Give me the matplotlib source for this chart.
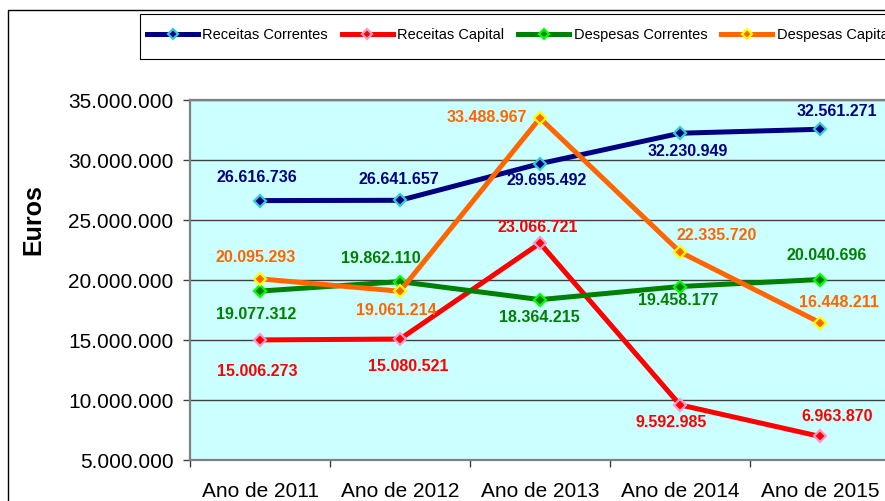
import matplotlib
matplotlib.use("Agg")
import matplotlib.pyplot as plt
from matplotlib.patches import Rectangle
from matplotlib.ticker import FuncFormatter, FixedLocator

plt.rcParams['font.family'] = ['Liberation Sans', 'DejaVu Sans']

categories = ["Ano de 2011", "Ano de 2012", "Ano de 2013", "Ano de 2014", "Ano de 2015"]
receitas_correntes = [26616736, 26641657, 29695492, 32230949, 32561271]
receitas_capital = [15006273, 15080521, 23066721, 9592985, 6963870]
despesas_correntes = [19077312, 19862110, 18364215, 19458177, 20040696]
despesas_capital = [20095293, 19061214, 33488967, 22335720, 16448211]
series_names = ["Receitas Correntes", "Receitas Capital", "Despesas Correntes", "Despesas Capital"]
y_label = "Euros"

series = [receitas_correntes, receitas_capital, despesas_correntes, despesas_capital]
line_colors = ["#000080", "#FF0000", "#008000", "#FF6600"]
edge_colors = ["#33CCCC", "#FF99CC", "#00FF00", "#FFFF00"]
label_colors = ["#000080", "#FF0000", "#008000", "#FF6600"]

# label offsets in pixels (dx, dy up-positive), alignment
offsets = [
    [(-3, 23), (-1, 21), (7, -17), (8, -18), (17, 18)],
    [(-3, -32), (8, -27), (-2, 16), (-9, -18), (17, 20)],
    [(-4, -23), (-19, 23), (-1, -18), (-2, -14), (7, 24)],
    [(-4, 21), (-4, -19), (-13, 1), (37, 16), (19, 20)],
]
ha_list = [
    ["center"] * 5,
    ["center"] * 5,
    ["center"] * 5,
    ["center", "center", "right", "center", "center"],
]

W, H = 885, 501
fig = plt.figure(figsize=(W / 100, H / 100), dpi=100)
fig.patch.set_facecolor("white")

# outer chart border
fig.patches.append(Rectangle((8 / W, -0.2), 2.0, 1 - 10 / H + 0.2, transform=fig.transFigure,
                             fill=False, edgecolor="black", linewidth=1.0))

ax = fig.add_axes([190 / W, 41 / H, 700 / W, 360 / H])
ax.set_facecolor("#CCFFFF")

x = list(range(len(categories)))
handles = []
for i, vals in enumerate(series):
    h, = ax.plot(x, vals, color=line_colors[i], linewidth=3.6, marker="D", markersize=6.5,
                 markerfacecolor=line_colors[i], markeredgecolor=edge_colors[i],
                 markeredgewidth=1.6, label=series_names[i], zorder=3 + i * 0.1, clip_on=False)
    handles.append(h)
    for j, v in enumerate(vals):
        dx, dy = offsets[i][j]
        s = f"{v:,}".replace(",", ".")
        ax.annotate(s, (x[j], v), xytext=(dx, dy), textcoords="offset pixels",
                    ha=ha_list[i][j], va="center", fontsize=11.5, fontweight="bold",
                    color=label_colors[i], zorder=6, annotation_clip=False)

ax.set_xlim(-0.5, 4.5)
ax.set_ylim(5_000_000, 35_000_000)
ax.set_yticks(range(5_000_000, 35_000_001, 5_000_000))
ax.yaxis.set_major_formatter(FuncFormatter(lambda v, p: f"{int(v):,}".replace(",", ".")))
ax.yaxis.grid(True, color="#404040", linewidth=1.0)
ax.set_axisbelow(True)

ax.set_xticks(x)
ax.set_xticklabels(categories)
ax.xaxis.set_minor_locator(FixedLocator([-0.5, 0.5, 1.5, 2.5, 3.5, 4.5]))
ax.tick_params(axis="x", which="major", length=0, pad=15.5, labelsize=15)
ax.tick_params(axis="x", which="minor", length=5, width=1.0, color="#404040", direction="out")
ax.tick_params(axis="y", length=5, width=1.0, color="#404040", direction="out", pad=7, labelsize=15)

for side in ["left", "top", "bottom"]:
    ax.spines[side].set_color("#808080")
    ax.spines[side].set_linewidth(1.6)
ax.spines["right"].set_visible(False)

fig.text(33 / W, 1 - 220 / H, y_label, rotation=90, ha="center", va="center",
         fontsize=18, fontweight="bold")

# legend frame
fig.patches.append(Rectangle((140 / W, 1 - 59 / H), 2.0, 45 / H, transform=fig.transFigure,
                             fill=False, edgecolor="black", linewidth=0.8))
leg = fig.legend(handles=handles, loc="center left", bbox_to_anchor=(147 / W, 1 - 35 / H),
                 ncol=4, frameon=False, fontsize=10.5, handlelength=3.5, handletextpad=0.3,
                 columnspacing=0.95, borderpad=0, borderaxespad=0, markerscale=0.85)

fig.savefig("out.png", dpi=100)
